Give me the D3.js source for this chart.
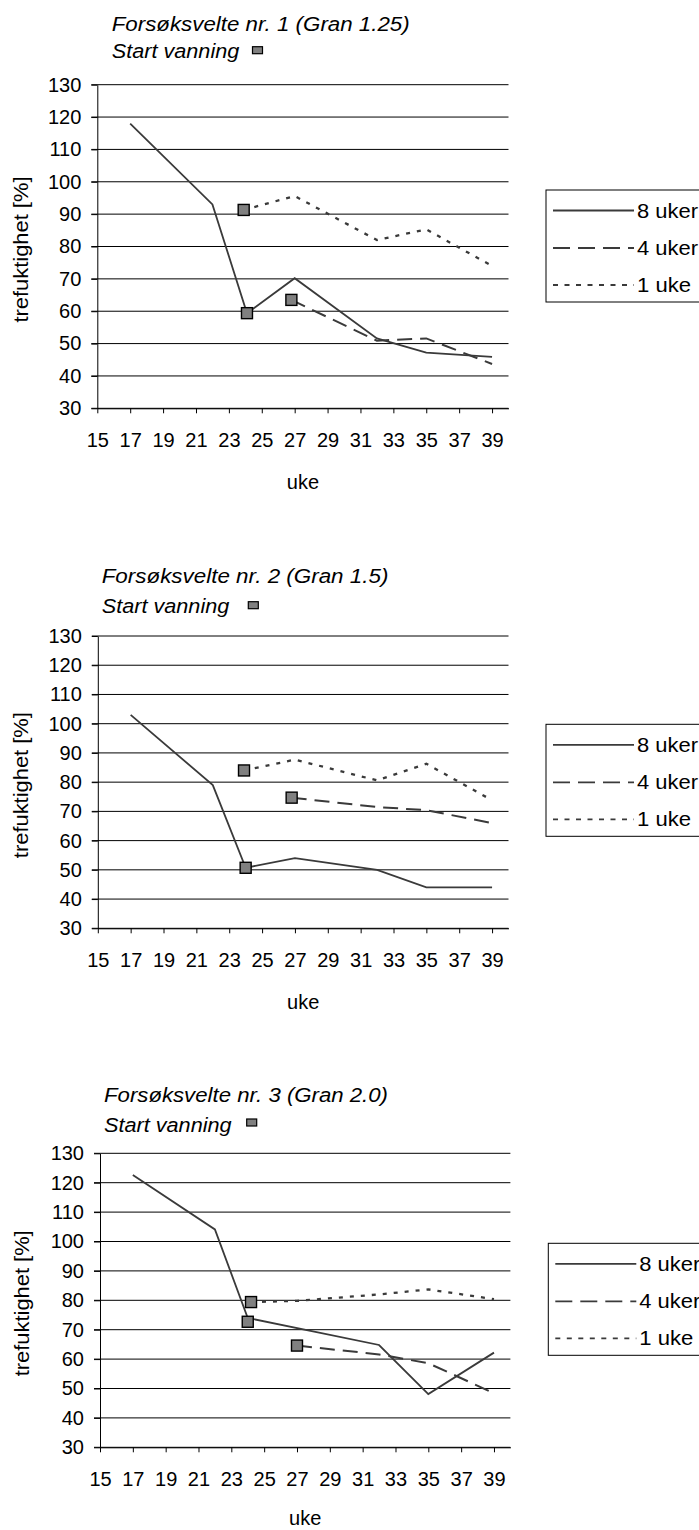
<!DOCTYPE html>
<html>
<head>
<meta charset="utf-8">
<script src="https://cdn.jsdelivr.net/npm/d3@7"></script>
<style>
  html, body { margin: 0; padding: 0; background: #fff; }
  svg { display: block; font-family: "Liberation Sans", Arial, sans-serif; }
</style>
</head>
<body>
<svg id="fig" width="699" height="1530"></svg>
<script>
// Wood moisture (trefuktighet, %) per week for three test stacks.
const seriesNames = ["8 uker", "4 uker", "1 uke"];
const xTicks = [15, 17, 19, 21, 23, 25, 27, 29, 31, 33, 35, 37, 39];
const yTicks = [30, 40, 50, 60, 70, 80, 90, 100, 110, 120, 130];
const titles = [
  "Forsøksvelte nr. 1 (Gran 1.25)",
  "Forsøksvelte nr. 2 (Gran 1.5)",
  "Forsøksvelte nr. 3 (Gran 2.0)"
];

// Stack 1
const s1Weeks8 = [17, 22, 24.1, 27, 32, 35, 39];
const s1Values8 = [118, 93, 59.4, 70.2, 51.6, 47.2, 45.9];
const s1Weeks4 = [26.8, 32, 35, 39];
const s1Values4 = [63.5, 50.9, 51.6, 43.7];
const s1Weeks1 = [23.9, 27, 32, 35, 39];
const s1Values1 = [91.3, 95.6, 82, 85.3, 74];
const s1StartWeeks = [23.9, 24.1, 26.8];
const s1StartValues = [91.3, 59.4, 63.5];

// Stack 2
const s2Weeks8 = [17, 22, 24, 27, 32, 35, 39];
const s2Values8 = [103, 79, 50.7, 54, 50, 44, 44];
const s2Weeks4 = [26.8, 32, 35, 39];
const s2Values4 = [74.7, 71.5, 70.4, 66];
const s2Weeks1 = [23.9, 27, 32, 35, 39];
const s2Values1 = [84, 87.7, 80.6, 86.3, 73.8];
const s2StartWeeks = [23.9, 24, 26.8];
const s2StartValues = [84, 50.7, 74.7];

// Stack 3
const s3Weeks8 = [17, 22, 24, 32, 35, 39];
const s3Values8 = [122.6, 104.1, 74, 64.8, 48.1, 62.2];
const s3Weeks4 = [27, 32, 35, 39];
const s3Values4 = [64.6, 61.6, 58.6, 48.4];
const s3Weeks1 = [24.2, 27, 32, 35, 39];
const s3Values1 = [79.4, 79.8, 82, 83.7, 80.4];
const s3StartWeeks = [24.2, 24, 27];
const s3StartValues = [79.4, 72.7, 64.6];

const zip = (xs, ys) => xs.map((x, i) => ({ x, y: ys[i] }));

const panels = [
  { title: titles[0],
    series: [zip(s1Weeks8, s1Values8), zip(s1Weeks4, s1Values4), zip(s1Weeks1, s1Values1)],
    starts: zip(s1StartWeeks, s1StartValues),
    box: { left: 97.3, right: 508.5, top: 84.7, bottom: 408.3 },
    titleX: 111.7, titleY: 30.7, titleW: 298, startY: 58.3, startW: 127.6, sqX: 252.5, sqY: 46.7,
    legX: 546, legY: 190, yTitleX: 28, ukeDy: 73.7 },
  { title: titles[1],
    series: [zip(s2Weeks8, s2Values8), zip(s2Weeks4, s2Values4), zip(s2Weeks1, s2Values1)],
    starts: zip(s2StartWeeks, s2StartValues),
    box: { left: 97.8, right: 508.5, top: 636, bottom: 928.3 },
    titleX: 101.7, titleY: 583.3, titleW: 286.7, startY: 613.3, startW: 127.6, sqX: 248.3, sqY: 601.7,
    legX: 546, legY: 724.3, yTitleX: 28, ukeDy: 73.7 },
  { title: titles[2],
    series: [zip(s3Weeks8, s3Values8), zip(s3Weeks4, s3Values4), zip(s3Weeks1, s3Values1)],
    starts: zip(s3StartWeeks, s3StartValues),
    box: { left: 100, right: 510.4, top: 1153.3, bottom: 1447.3 },
    titleX: 104, titleY: 1101.7, titleW: 284, startY: 1131.7, startW: 127.6, sqX: 246.7, sqY: 1119,
    legX: 548.3, legY: 1243.3, yTitleX: 29, ukeDy: 70.7 }
];

const lineColor = "#3a3a3a";
const dashes = [null, "15,8", "4,7"];
const widths = [1.8, 2, 2.3];
const legendDashes = [null, "17,8", "5,6.5"];

const svg = d3.select("#fig");

panels.forEach(p => {
  const g = svg.append("g");
  const b = p.box;
  const x = d3.scaleLinear().domain([15, 40]).range([b.left, b.right]);
  const y = d3.scaleLinear().domain([30, 130]).range([b.bottom, b.top]);

  // Titles
  g.append("text")
    .attr("x", p.titleX).attr("y", p.titleY)
    .attr("font-size", 20).attr("font-style", "italic")
    .attr("textLength", p.titleW).attr("lengthAdjust", "spacingAndGlyphs")
    .text(p.title);
  g.append("text")
    .attr("x", p.titleX).attr("y", p.startY)
    .attr("font-size", 20).attr("font-style", "italic")
    .attr("textLength", p.startW).attr("lengthAdjust", "spacingAndGlyphs")
    .text("Start vanning");
  g.append("rect")
    .attr("x", p.sqX).attr("y", p.sqY).attr("width", 10).attr("height", 7)
    .attr("fill", "#808080").attr("stroke", "#000").attr("stroke-width", 1.2);

  // Horizontal gridlines (extend past the axis as tick marks)
  g.append("g").selectAll("line").data(yTicks).join("line")
    .attr("x1", b.left - 6).attr("x2", b.right)
    .attr("y1", d => y(d)).attr("y2", d => y(d))
    .attr("stroke", "#000").attr("stroke-width", 1);

  // Y axis
  const yAxis = g.append("g")
    .attr("transform", `translate(${b.left},0)`)
    .call(d3.axisLeft(y).tickValues(yTicks).tickSize(6).tickSizeOuter(0).tickPadding(10));
  yAxis.select(".domain").attr("stroke", "#000");
  yAxis.selectAll(".tick line").attr("stroke", "#000");
  yAxis.selectAll("text").attr("font-size", 20).attr("fill", "#000")
    .attr("font-family", "Liberation Sans, Arial, sans-serif");

  // X axis
  const xAxis = g.append("g")
    .attr("transform", `translate(0,${b.bottom})`)
    .call(d3.axisBottom(x).tickValues(xTicks).tickSize(5).tickSizeOuter(0));
  xAxis.select(".domain").attr("stroke", "#000");
  xAxis.selectAll(".tick line").attr("stroke", "#000");
  xAxis.selectAll("text").attr("font-size", 20).attr("fill", "#000")
    .attr("font-family", "Liberation Sans, Arial, sans-serif")
    .attr("y", 32).attr("dy", "0.35em");

  // Axis titles
  g.append("text")
    .attr("transform", `translate(${p.yTitleX},${(b.top + b.bottom) / 2 + 3}) rotate(-90)`)
    .attr("text-anchor", "middle").attr("font-size", 20)
    .attr("textLength", 146).attr("lengthAdjust", "spacingAndGlyphs")
    .text("trefuktighet [%]");
  g.append("text")
    .attr("x", (b.left + b.right) / 2).attr("y", b.bottom + p.ukeDy)
    .attr("dy", "0.35em").attr("text-anchor", "middle").attr("font-size", 20)
    .text("uke");

  // Series lines
  const line = d3.line().x(d => x(d.x)).y(d => y(d.y));
  p.series.forEach((s, i) => {
    g.append("path").datum(s)
      .attr("d", line)
      .attr("fill", "none")
      .attr("stroke", lineColor)
      .attr("stroke-width", widths[i])
      .attr("stroke-dasharray", dashes[i]);
  });

  // Start of watering markers
  g.append("g").selectAll("rect").data(p.starts).join("rect")
    .attr("x", d => x(d.x) - 5.5).attr("y", d => y(d.y) - 5.5)
    .attr("width", 11).attr("height", 11)
    .attr("fill", "#808080").attr("stroke", "#000").attr("stroke-width", 1.4);

  // Legend
  const leg = g.append("g").attr("transform", `translate(${p.legX},${p.legY})`);
  leg.append("rect").attr("x", 0).attr("y", 0).attr("width", 220).attr("height", 112)
    .attr("fill", "#fff").attr("stroke", "#000").attr("stroke-width", 1);
  const rows = [20.5, 58, 95];
  seriesNames.forEach((name, i) => {
    leg.append("line")
      .attr("x1", 7).attr("x2", 88).attr("y1", rows[i]).attr("y2", rows[i])
      .attr("stroke", lineColor).attr("stroke-width", 1.8)
      .attr("stroke-dasharray", legendDashes[i]);
    leg.append("text")
      .attr("x", 91).attr("y", rows[i]).attr("dy", "0.35em")
      .attr("font-size", 20)
      .attr("textLength", i < 2 ? 61 : 54).attr("lengthAdjust", "spacingAndGlyphs")
      .text(name);
  });
});
</script>
</body>
</html>
